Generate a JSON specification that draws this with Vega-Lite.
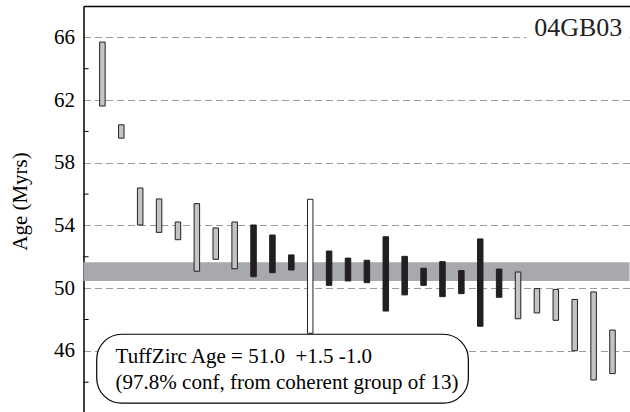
{
  "$schema": "https://vega.github.io/schema/vega-lite/v6.json",
  "width": 546,
  "height": 406,
  "autosize": "none",
  "padding": {"left": 83.5, "top": 6, "right": 0, "bottom": 0},
  "background": "white",
  "config": {
    "view": {"stroke": null},
    "font": "Liberation Serif",
    "style": {
      "guide-label": {"font": "Liberation Serif", "fontSize": 21, "fill": "black"},
      "guide-title": {"font": "Liberation Serif", "fontSize": 21, "fontWeight": "normal", "fill": "black"}
    },
    "axis": {
      "labelFont": "Liberation Serif", "labelFontSize": 21, "labelColor": "black",
      "titleFont": "Liberation Serif", "titleFontSize": 21, "titleFontWeight": "normal", "titleColor": "black"
    }
  },
  "datasets": {
    "grains": [
      {"grain": 1, "lo": 61.62, "hi": 65.70, "group": "excluded"},
      {"grain": 2, "lo": 59.57, "hi": 60.42, "group": "excluded"},
      {"grain": 3, "lo": 54.03, "hi": 56.39, "group": "excluded"},
      {"grain": 4, "lo": 53.56, "hi": 55.69, "group": "excluded"},
      {"grain": 5, "lo": 53.09, "hi": 54.22, "group": "excluded"},
      {"grain": 6, "lo": 51.08, "hi": 55.39, "group": "excluded"},
      {"grain": 7, "lo": 51.84, "hi": 53.84, "group": "excluded"},
      {"grain": 8, "lo": 51.24, "hi": 54.22, "group": "excluded"},
      {"grain": 9, "lo": 50.73, "hi": 54.03, "group": "coherent"},
      {"grain": 10, "lo": 50.99, "hi": 53.39, "group": "coherent"},
      {"grain": 11, "lo": 51.16, "hi": 52.12, "group": "coherent"},
      {"grain": 12, "lo": 47.12, "hi": 55.67, "group": "outlier"},
      {"grain": 13, "lo": 50.18, "hi": 52.37, "group": "coherent"},
      {"grain": 14, "lo": 50.46, "hi": 51.92, "group": "coherent"},
      {"grain": 15, "lo": 50.35, "hi": 51.78, "group": "coherent"},
      {"grain": 16, "lo": 48.54, "hi": 53.28, "group": "coherent"},
      {"grain": 17, "lo": 49.57, "hi": 52.03, "group": "coherent"},
      {"grain": 18, "lo": 50.18, "hi": 51.27, "group": "coherent"},
      {"grain": 19, "lo": 49.46, "hi": 51.69, "group": "coherent"},
      {"grain": 20, "lo": 49.65, "hi": 51.12, "group": "coherent"},
      {"grain": 21, "lo": 47.57, "hi": 53.14, "group": "coherent"},
      {"grain": 22, "lo": 49.42, "hi": 51.22, "group": "coherent"},
      {"grain": 23, "lo": 48.05, "hi": 51.03, "group": "excluded"},
      {"grain": 24, "lo": 48.42, "hi": 49.97, "group": "excluded"},
      {"grain": 25, "lo": 47.95, "hi": 49.92, "group": "excluded"},
      {"grain": 26, "lo": 46.01, "hi": 49.28, "group": "excluded"},
      {"grain": 27, "lo": 44.14, "hi": 49.76, "group": "excluded"},
      {"grain": 28, "lo": 44.55, "hi": 47.33, "group": "excluded"}
    ],
    "minorTicks": [{"age": 44}, {"age": 48}, {"age": 52}, {"age": 56}, {"age": 60}, {"age": 64}],
    "ageBand": [{"lo": 50.45, "hi": 51.65}],
    "sampleTag": [{"x": 23.45, "x2": 28.9, "lo": 65.6, "hi": 66.6, "x_text": 28.52, "y_text": 66.1, "label": "04GB03"}],
    "resultBox": [{"x": 0.70, "x2": 20.37, "lo": 42.66, "hi": 47.06}],
    "resultText": [
      {"x": 1.70, "y": 45.25, "label": "TuffZirc Age = 51.0\u00a0 +1.5 -1.0"},
      {"x": 1.70, "y": 43.57, "label": "(97.8% conf, from coherent group of 13)"}
    ]
  },
  "layer": [
    {
      "data": {"name": "ageBand"},
      "mark": {"type": "rect", "fill": "#a7a9ac"},
      "encoding": {
        "y": {"field": "lo", "type": "quantitative", "scale": {"domain": [42.1, 68], "nice": false, "zero": false}},
        "y2": {"field": "hi"}
      }
    },
    {
      "data": {"name": "sampleTag"},
      "mark": {"type": "rect", "fill": "white"},
      "encoding": {
        "x": {"field": "x", "type": "quantitative", "scale": {"domain": [0, 28.9], "nice": false, "zero": false, "padding": 0}},
        "x2": {"field": "x2"},
        "y": {"field": "lo", "type": "quantitative", "scale": {"domain": [42.1, 68], "nice": false, "zero": false}},
        "y2": {"field": "hi"}
      }
    },
    {
      "data": {"name": "grains"},
      "mark": {"type": "bar", "size": 5.5, "stroke": "#231f20", "strokeWidth": 1},
      "encoding": {
        "x": {
          "field": "grain", "type": "quantitative",
          "scale": {"domain": [0, 28.9], "nice": false, "zero": false, "padding": 0},
          "axis": {"orient": "top", "title": null, "labels": false, "ticks": false, "grid": false, "domainColor": "black", "domainWidth": 1.5}
        },
        "y": {
          "field": "lo", "type": "quantitative",
          "scale": {"domain": [42.1, 68], "nice": false, "zero": false},
          "axis": {
            "values": [46, 50, 54, 58, 62, 66],
            "title": "Age (Myrs)",
            "titleX": -57, "titleY": 195, "titleAngle": -90, "titleAlign": "center", "titleBaseline": "alphabetic",
            "labelFont": "Liberation Serif", "labelFontSize": 21, "labelColor": "black", "labelPadding": 9,
            "ticks": false,
            "grid": true, "gridColor": "#9a9a9a", "gridDash": [7, 4], "gridWidth": 1,
            "domainColor": "black", "domainWidth": 1.5
          }
        },
        "y2": {"field": "hi"},
        "color": {
          "field": "group", "type": "nominal",
          "scale": {"domain": ["coherent", "excluded", "outlier"], "range": ["#231f20", "#c4c4c6", "#ffffff"]},
          "legend": null
        }
      }
    },
    {
      "data": {"name": "minorTicks"},
      "mark": {"type": "rule", "color": "black", "strokeWidth": 1},
      "encoding": {
        "x": {"datum": 0, "type": "quantitative", "scale": {"domain": [0, 28.9], "nice": false, "zero": false, "padding": 0}},
        "x2": {"datum": 0.27},
        "y": {"field": "age", "type": "quantitative", "scale": {"domain": [42.1, 68], "nice": false, "zero": false}}
      }
    },
    {
      "data": {"name": "resultBox"},
      "mark": {"type": "rect", "fill": "white", "stroke": "black", "strokeWidth": 1.2, "cornerRadius": 25},
      "encoding": {
        "x": {"field": "x", "type": "quantitative", "scale": {"domain": [0, 28.9], "nice": false, "zero": false, "padding": 0}},
        "x2": {"field": "x2"},
        "y": {"field": "lo", "type": "quantitative", "scale": {"domain": [42.1, 68], "nice": false, "zero": false}},
        "y2": {"field": "hi"}
      }
    },
    {
      "data": {"name": "resultText"},
      "mark": {"type": "text", "align": "left", "baseline": "alphabetic", "font": "Liberation Serif", "fontSize": 21, "color": "black"},
      "encoding": {
        "x": {"field": "x", "type": "quantitative", "scale": {"domain": [0, 28.9], "nice": false, "zero": false, "padding": 0}},
        "y": {"field": "y", "type": "quantitative", "scale": {"domain": [42.1, 68], "nice": false, "zero": false}},
        "text": {"field": "label"}
      }
    },
    {
      "data": {"name": "sampleTag"},
      "mark": {"type": "text", "align": "right", "baseline": "alphabetic", "font": "Liberation Serif", "fontSize": 26, "color": "#222222"},
      "encoding": {
        "x": {"field": "x_text", "type": "quantitative", "scale": {"domain": [0, 28.9], "nice": false, "zero": false, "padding": 0}},
        "y": {"field": "y_text", "type": "quantitative", "scale": {"domain": [42.1, 68], "nice": false, "zero": false}},
        "text": {"field": "label"}
      }
    }
  ]
}
